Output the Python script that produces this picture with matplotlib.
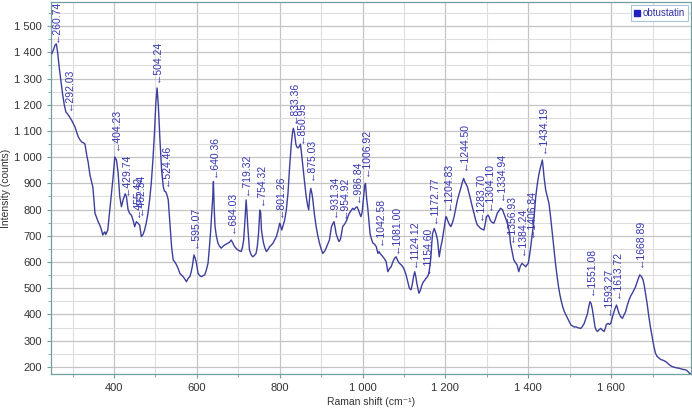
import matplotlib
matplotlib.use("Agg")
import matplotlib.pyplot as plt
from matplotlib.ticker import MultipleLocator, FuncFormatter
from matplotlib.lines import Line2D

plt.rcParams["font.family"] = ["Liberation Sans", "DejaVu Sans"]

# ---------------------------------------------------------------------------
# Data
# ---------------------------------------------------------------------------
raman_shift = [
    250, 254, 258, 261, 264, 268, 272, 276, 280, 284, 288, 293, 298, 306, 310, 314,
    318, 322, 326, 330, 334, 338, 342, 346, 349, 352, 354, 358, 362, 366, 370, 373,
    376, 378, 380, 382, 385, 390, 394, 398, 402, 406, 410, 414, 418, 422, 427, 430,
    434, 438, 442, 446, 450, 454, 458, 462, 466, 470, 474, 478, 482, 486, 490, 494,
    498, 501, 504, 507, 511, 515, 519, 522, 525, 528, 531, 535, 539, 543, 547, 551,
    555, 559, 563, 567, 571, 575, 579, 583, 586, 589, 593, 596, 599, 603, 607, 611,
    615, 619, 623, 627, 630, 633, 636, 638, 640, 642, 644, 647, 651, 655, 659, 663,
    667, 671, 675, 679, 683, 687, 691, 695, 699, 703, 707, 710, 713, 715, 717, 719,
    721, 723, 725, 727, 731, 735, 739, 743, 746, 749, 752, 754, 756, 759, 761, 764,
    768, 772, 776, 780, 784, 788, 792, 796, 800, 802, 805, 808, 812, 816, 820, 824,
    828, 831, 833, 836, 839, 841, 844, 847, 850, 853, 856, 860, 864, 867, 870, 873,
    875, 878, 880, 884, 888, 892, 896, 900, 904, 908, 912, 916, 920, 925, 928, 931,
    934, 936, 940, 943, 946, 948, 952, 955, 958, 962, 965, 968, 972, 976, 980, 984,
    987, 990, 993, 996, 999, 1002, 1005, 1007, 1010, 1013, 1018, 1021, 1025, 1029, 1033, 1037,
    1040, 1042, 1045, 1049, 1053, 1057, 1061, 1065, 1069, 1073, 1077, 1081, 1085, 1089, 1093, 1097,
    1101, 1105, 1109, 1113, 1117, 1120, 1123, 1126, 1129, 1131, 1134, 1136, 1139, 1141, 1144, 1147,
    1150, 1153, 1157, 1160, 1163, 1165, 1167, 1169, 1173, 1177, 1181, 1183, 1185, 1187, 1189, 1192,
    1195, 1198, 1201, 1203, 1205, 1209, 1213, 1217, 1221, 1225, 1229, 1233, 1237, 1241, 1244, 1247,
    1249, 1253, 1257, 1261, 1265, 1269, 1273, 1277, 1281, 1285, 1289, 1293, 1296, 1299, 1303, 1306,
    1308, 1312, 1317, 1321, 1325, 1329, 1333, 1336, 1338, 1341, 1344, 1348, 1352, 1355, 1357, 1361,
    1365, 1369, 1373, 1377, 1381, 1385, 1390, 1394, 1397, 1400, 1403, 1406, 1409, 1412, 1415, 1418,
    1422, 1426, 1430, 1434, 1436, 1438, 1440, 1442, 1446, 1450, 1454, 1458, 1462, 1466, 1470, 1473,
    1476, 1479, 1483, 1487, 1491, 1495, 1499, 1503, 1507, 1511, 1515, 1519, 1523, 1527, 1531, 1535,
    1539, 1543, 1546, 1549, 1552, 1555, 1558, 1561, 1564, 1567, 1571, 1575, 1579, 1583, 1586, 1588,
    1591, 1593, 1596, 1599, 1603, 1607, 1610, 1613, 1616, 1619, 1623, 1627, 1631, 1635, 1639, 1643,
    1647, 1651, 1655, 1659, 1664, 1669, 1673, 1677, 1680, 1683, 1687, 1691, 1695, 1699, 1703, 1707,
    1711, 1716, 1720, 1726, 1732, 1738, 1743, 1748, 1754, 1759, 1764, 1770, 1775, 1780, 1785, 1789,
    1793,
]
intensity = [
    1395, 1410, 1428, 1432, 1400, 1340, 1290, 1240, 1200, 1172, 1165, 1153, 1140, 1115, 1095, 1077,
    1066, 1058, 1055, 1050, 1010, 978, 932, 905, 886, 830, 787, 770, 753, 740, 722, 703,
    712, 715, 705, 711, 722, 799, 860, 925, 1001, 989, 940, 849, 811, 837, 860, 850,
    800, 785, 779, 760, 735, 754, 748, 741, 697, 705, 722, 750, 786, 837, 900, 990,
    1100, 1205, 1264, 1200, 1065, 950, 887, 870, 868, 855, 837, 748, 659, 608, 600, 589,
    575, 557, 550, 544, 535, 525, 538, 544, 560, 582, 627, 615, 596, 557, 548, 544,
    548, 551, 570, 595, 650, 711, 790, 837, 907, 800, 735, 700, 672, 660, 653, 660,
    665, 668, 672, 676, 684, 672, 659, 652, 646, 643, 640, 655, 684, 730, 786, 837,
    790, 735, 690, 646, 628, 620, 625, 633, 660, 710, 798, 790, 722, 690, 672, 655,
    640, 648, 659, 665, 672, 685, 697, 720, 748, 740, 722, 738, 760, 799, 862, 964,
    1050, 1095, 1110, 1090, 1050, 1040, 1035, 1040, 1050, 1010, 964, 905, 849, 820, 799, 860,
    881, 860, 837, 780, 735, 700, 672, 650, 633, 640, 653, 668, 684, 735, 745, 754,
    730, 709, 690, 678, 685, 697, 735, 741, 748, 760, 775, 786, 795, 805, 800, 809,
    810, 799, 785, 773, 790, 840, 890, 900, 840, 799, 709, 690, 672, 668, 659, 633,
    640, 633, 628, 620, 612, 601, 563, 575, 582, 600, 614, 620, 605, 595, 590, 582,
    570, 551, 525, 500, 494, 515, 544, 563, 540, 519, 495, 481, 490, 500, 515, 525,
    530, 538, 545, 557, 590, 620, 670, 709, 728, 710, 684, 650, 620, 640, 659, 680,
    709, 740, 773, 770, 760, 745, 735, 750, 773, 805, 837, 860, 881, 905, 919, 905,
    900, 887, 862, 837, 810, 786, 760, 741, 735, 728, 725, 722, 745, 773, 779, 770,
    760, 752, 748, 765, 786, 795, 805, 802, 799, 785, 773, 755, 735, 709, 672, 640,
    608, 598, 589, 563, 585, 595, 588, 582, 590, 595, 625, 659, 700, 735, 790, 849,
    900, 938, 965, 989, 960, 925, 900, 875, 849, 823, 770, 709, 645, 590, 540, 506,
    478, 455, 430, 411, 398, 385, 372, 360, 356, 352, 353, 350, 348, 347, 355, 366,
    385, 404, 430, 449, 440, 417, 385, 353, 340, 335, 342, 347, 340, 335, 348, 360,
    365, 366, 362, 366, 390, 411, 425, 436, 420, 404, 392, 385, 398, 411, 435, 455,
    470, 481, 493, 506, 530, 551, 545, 532, 510, 481, 440, 392, 350, 315, 280, 252,
    240, 233, 228, 225, 220, 212, 205, 201, 198, 196, 195, 192, 190, 189, 183, 176,
    172,
]

peak_labels = [
    "260.74", "292.03", "404.23", "429.74", "455.42", "462.34", "504.24", "524.46",
    "595.07", "640.36", "684.03", "719.32", "754.32", "801.26", "833.36", "850.95",
    "875.03", "931.34", "954.92", "986.84", "1006.92", "1042.58", "1081.00", "1124.12",
    "1154.60", "1172.77", "1204.83", "1244.50", "1283.70", "1304.10", "1334.94",
    "1356.93", "1384.24", "1406.84", "1434.19", "1551.08", "1593.27", "1613.72",
    "1668.89",
]
# height of the arrow tip above each labelled peak
peak_tip = [
    1440, 1180, 1027, 856, 773, 779, 1288, 890,
    652, 925, 709, 856, 818, 773, 1131, 1055,
    913, 773, 767, 830, 928, 665, 633, 582,
    557, 748, 799, 951, 760, 799, 837,
    678, 627, 697, 1014, 475, 398, 462,
    580,
]

LINE_C = "#3d3f9c"
TEXT_C = "#3535b0"
SPINE_C = "#6f9f9f"

fig = plt.figure(figsize=(6.92, 4.09), dpi=100)
ax = fig.add_axes([0.0737, 0.0856, 0.925, 0.909])

ax.plot(raman_shift, intensity, color=LINE_C, lw=1.0, zorder=3)

for lbl, tip in zip(peak_labels, peak_tip):
    ax.text(float(lbl), tip, "\u2190" + lbl, rotation=90, ha="center", va="bottom",
            fontsize=7.5, color=TEXT_C, zorder=4)

ax.set_xlim(248, 1793)
ax.set_ylim(173, 1591)

ax.xaxis.set_major_locator(MultipleLocator(200))
ax.xaxis.set_minor_locator(MultipleLocator(100))
ax.yaxis.set_major_locator(MultipleLocator(100))
ax.yaxis.set_minor_locator(MultipleLocator(50))
fmt = FuncFormatter(lambda v, _: f"{v:,.0f}".replace(",", " "))
ax.xaxis.set_major_formatter(fmt)
ax.yaxis.set_major_formatter(fmt)

ax.grid(which="major", color="#c4c4c4", lw=0.9)
ax.grid(which="minor", color="#dedede", lw=0.8)
ax.set_axisbelow(True)

for s in ax.spines.values():
    s.set_color(SPINE_C)
    s.set_linewidth(0.9)
ax.tick_params(which="both", colors=SPINE_C, labelcolor="#333333", labelsize=8)
ax.tick_params(which="major", length=3)
ax.tick_params(which="minor", length=2)

ax.set_xlabel("Raman shift (cm\u207b\u00b9)", fontsize=7.5, color="#333333", labelpad=3)
ax.set_ylabel("Intensity (counts)", fontsize=7.5, color="#333333")
ax.yaxis.set_label_coords(-0.062, 0.5)

handle = Line2D([], [], marker="s", ls="none", color="#2020c0", markersize=4)
leg = ax.legend([handle], ["obtustatin"], loc="upper right", fontsize=7,
                handlelength=0.6, handletextpad=0.3, borderpad=0.3,
                borderaxespad=0.3, fancybox=False, framealpha=1)
leg.get_frame().set_edgecolor("#a9c4d4")
leg.get_frame().set_linewidth(0.8)
for t in leg.get_texts():
    t.set_color("#3030a0")

fig.savefig("out.png", dpi=100)
